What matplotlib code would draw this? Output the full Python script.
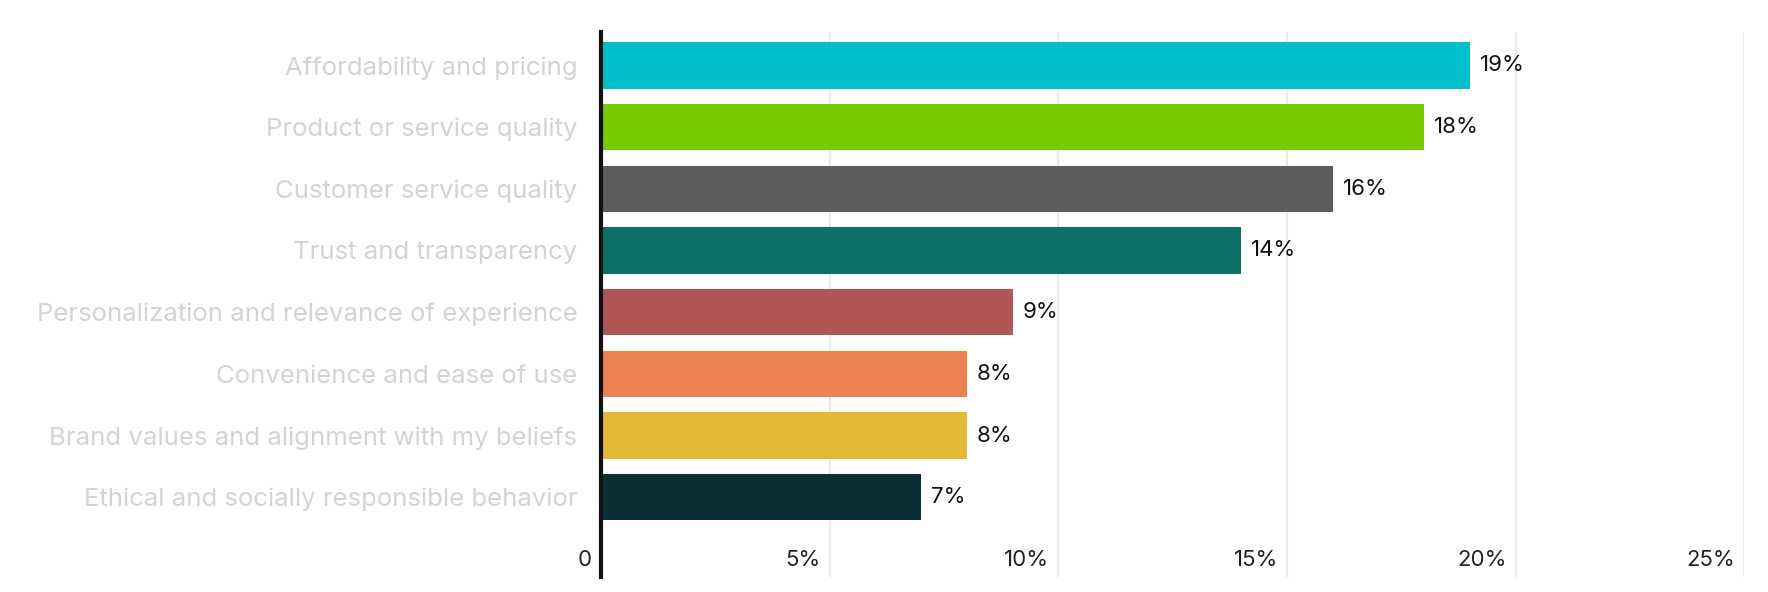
import matplotlib
matplotlib.use("Agg")
import matplotlib.pyplot as plt
from matplotlib.transforms import offset_copy

categories = ["Affordability and pricing", "Product or service quality", "Customer service quality",
              "Trust and transparency", "Personalization and relevance of experience",
              "Convenience and ease of use", "Brand values and alignment with my beliefs",
              "Ethical and socially responsible behavior"]
values = [19, 18, 16, 14, 9, 8, 8, 7]
value_labels = ["19%", "18%", "16%", "14%", "9%", "8%", "8%", "7%"]
colors = ["#00BFCB", "#77C900", "#5E5C5C", "#0E6F66", "#B05755", "#EE8150", "#E3B832", "#0B3033"]
xticks = [0, 5, 10, 15, 20, 25]
xtick_labels = ["0", "5%", "10%", "15%", "20%", "25%"]

plt.rcParams['font.family'] = ['Inter', 'DejaVu Sans']
fig = plt.figure(figsize=(17.68, 5.92), dpi=100)
W, H = 1568, 525
ax = fig.add_axes([533/W, 1 - 512/H, (1547-533)/W, (512-28)/H])
y = list(range(len(categories)))
ax.barh(y, values, height=0.75, color=colors, zorder=3)
ax.set_xlim(0, 25)
ax.set_ylim(8.3, -0.55)
for xv in xticks[1:]:
    ax.axvline(xv, color="#EBEBEB", lw=1.5, zorder=0)
for s in ["top", "right", "bottom"]:
    ax.spines[s].set_visible(False)
ax.spines["left"].set_linewidth(3)
ax.spines["left"].set_color("#111111")
ax.spines["left"].set_zorder(5)
ax.set_xticks([])
ax.set_yticks(y)
ax.set_yticklabels(categories, fontsize=18.5, color="#D3D3D3")
ax.tick_params(axis="y", length=0, pad=17)
tr = offset_copy(ax.transData, fig=fig, x=-9, y=0, units="dots")
for xv, lab in zip(xticks, xtick_labels):
    ax.text(xv, 8.02, lab, transform=tr, ha="right", va="center", fontsize=16, color="#222222")
for yi, v, lab in zip(y, values, value_labels):
    ax.text(v + 0.22, yi, lab, ha="left", va="center", fontsize=16, color="#111111")
fig.savefig("out.png", dpi=100)
